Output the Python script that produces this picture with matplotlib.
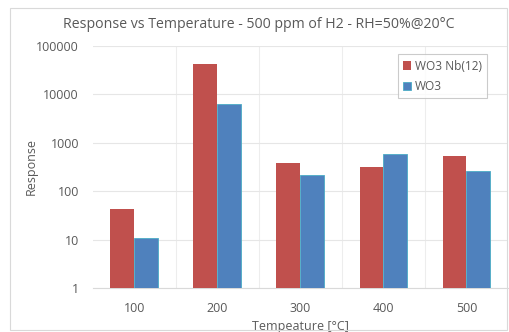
import matplotlib
matplotlib.use("Agg")
import matplotlib.pyplot as plt
import numpy as np
from matplotlib.patches import Rectangle

categories = ["100", "200", "300", "400", "500"]
wo3_nb = [43, 42500, 380, 315, 533]
wo3 = [10.8, 6300, 216, 590, 262]
series_names = ["WO3 Nb(12)", "WO3"]

plt.rcParams['font.family'] = ['Open Sans', 'DejaVu Sans']
txt = "#595959"

fig = plt.figure(figsize=(5.1, 3.32), dpi=100)
fig.patches.append(Rectangle((0.02, 0.005), 0.975, 0.97, transform=fig.transFigure,
                             fill=False, edgecolor="#D9D9D9", linewidth=0.8))
ax = fig.add_axes([0.182, 0.1325, 0.814, 0.729])

x = np.arange(len(categories))
w = 0.288
ax.bar(x - w/2, wo3_nb, w, color="#C0504D", label=series_names[0], zorder=3)
ax.bar(x + w/2, wo3, w, color="#4F81BD", edgecolor="#4BACC6", linewidth=0.6,
       label=series_names[1], zorder=3)

ax.set_yscale("log")
ax.set_ylim(1, 100000)
ax.set_xlim(-0.5, len(categories) - 0.5)
ax.set_yticks([1, 10, 100, 1000, 10000, 100000])
ax.set_yticklabels(["1", "10", "100", "1000", "10000", "100000"])
ax.minorticks_off()
ax.set_xticks(x)
ax.set_xticklabels(categories)
ax.tick_params(axis="both", length=0, labelsize=9, colors=txt)
ax.tick_params(axis="y", pad=10)
ax.tick_params(axis="x", pad=10)

ax.grid(axis="y", color="#E6E6E6", linewidth=0.8, zorder=0)
for b in np.arange(0.5, len(categories) - 0.5, 1.0):
    ax.axvline(b, color="#EDEDED", linewidth=0.8, zorder=0)
for s in ["top", "right", "left"]:
    ax.spines[s].set_visible(False)
ax.spines["bottom"].set_color("#D9D9D9")

ax.set_xlabel("Tempeature [°C]", fontsize=9, color=txt, labelpad=4)
ax.set_ylabel("Response", fontsize=9, color=txt, labelpad=-1)
fig.text(0.508, 0.925, "Response vs Temperature - 500 ppm of H2 - RH=50%@20°C",
         ha="center", va="center", fontsize=10.2, color=txt)

leg = ax.legend(loc="upper left", bbox_to_anchor=(0.72, 0.99), fontsize=8.6,
                frameon=True, fancybox=False, edgecolor="#BFBFBF",
                handlelength=0.7, handleheight=0.7, handletextpad=0.3,
                borderpad=0.45, labelspacing=0.6)
for t in leg.get_texts():
    t.set_color(txt)
leg.get_frame().set_linewidth(0.8)

fig.savefig("out.png", dpi=100)
